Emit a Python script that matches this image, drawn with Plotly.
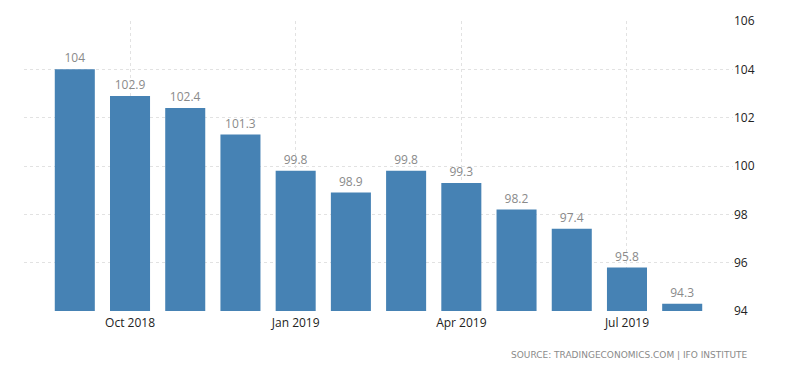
import plotly.graph_objects as go

months = ["Sep 2018", "Oct 2018", "Nov 2018", "Dec 2018", "Jan 2019", "Feb 2019",
          "Mar 2019", "Apr 2019", "May 2019", "Jun 2019", "Jul 2019", "Aug 2019"]
values = [104, 102.9, 102.4, 101.3, 99.8, 98.9, 99.8, 99.3, 98.2, 97.4, 95.8, 94.3]
labels = ["104", "102.9", "102.4", "101.3", "99.8", "98.9", "99.8", "99.3", "98.2", "97.4", "95.8", "94.3"]
tick_months = ["Oct 2018", "Jan 2019", "Apr 2019", "Jul 2019"]
y_ticks = [94, 96, 98, 100, 102, 104, 106]

idx = list(range(len(months)))
tick_idx = [months.index(m) for m in tick_months]

fig = go.Figure()
fig.add_trace(go.Bar(
    x=idx, y=values, text=labels, textposition="outside",
    textfont=dict(color="#8a8a8a", size=12, family="Open Sans"),
    marker=dict(color="#4682b4", line=dict(width=0)),
    width=0.725, cliponaxis=False,
))

fig.update_layout(
    width=792, height=365,
    margin=dict(l=16, r=67, t=13, b=62),
    paper_bgcolor="white", plot_bgcolor="white",
    showlegend=False,
    font=dict(family="Open Sans", color="#222"),
    xaxis=dict(
        range=[-0.92, 11.92], tickmode="array", tickvals=tick_idx, ticktext=tick_months,
        showgrid=True, gridcolor="#e2e2e2", griddash="dot", gridwidth=1, automargin=False,
        zeroline=False, showline=False, ticks="", tickfont=dict(size=12, color="#222"),
        ticklabelstandoff=3,
    ),
    yaxis=dict(
        range=[94, 106], side="right", tickmode="array", tickvals=y_ticks, automargin=False,
        showgrid=True, gridcolor="#e2e2e2", griddash="dot", gridwidth=1,
        zeroline=False, showline=False, ticks="", tickfont=dict(size=12, color="#222"),
    ),
    annotations=[dict(
        text="SOURCE: TRADINGECONOMICS.COM | IFO INSTITUTE",
        xref="paper", yref="paper", x=1.024, y=-0.152, xanchor="right", yanchor="middle",
        showarrow=False, font=dict(size=9, color="#8a8a8a", family="DejaVu Sans"),
    )],
)

fig.write_html("out.html")
